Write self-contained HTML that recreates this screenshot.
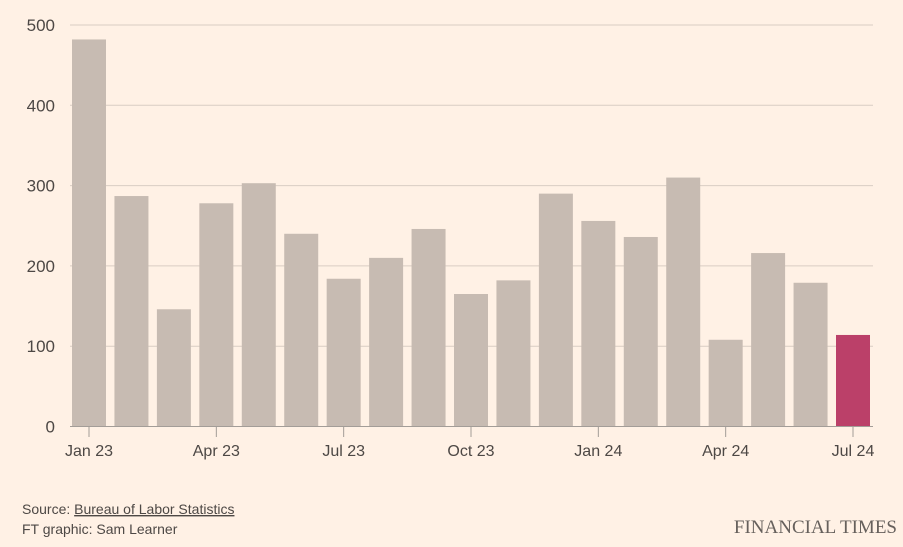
<!DOCTYPE html>
<html><head><meta charset="utf-8"><style>
body{margin:0;background:#fff1e5;}
svg{display:block;font-family:"Liberation Sans",sans-serif;}
</style></head><body>
<svg width="903" height="547" viewBox="0 0 903 547">
<g id="grid"></g><g id="bars"></g><g id="xaxis"></g>
<text x="22" y="514" font-size="14" fill="#4d4845">Source: <tspan text-decoration="underline">Bureau of Labor Statistics</tspan></text>
<text x="22" y="534" font-size="14" fill="#4d4845">FT graphic: Sam Learner</text>
<text x="897" y="533" font-size="19" text-anchor="end" fill="#66605c" font-family="Liberation Serif,serif">FINANCIAL TIMES</text>
</svg>
<script>
const months=["Jan 23","Feb 23","Mar 23","Apr 23","May 23","Jun 23","Jul 23","Aug 23","Sep 23","Oct 23","Nov 23","Dec 23","Jan 24","Feb 24","Mar 24","Apr 24","May 24","Jun 24","Jul 24"];
const values=[482,287,146,278,303,240,184,210,246,165,182,290,256,236,310,108,216,179,114];
const yTicks=[0,100,200,300,400,500];
const xTickLabels={0:"Jan 23",3:"Apr 23",6:"Jul 23",9:"Oct 23",12:"Jan 24",15:"Apr 24",18:"Jul 24"};
const NS="http://www.w3.org/2000/svg";
const y0=426.5,pxPer=(426.5-25)/500;
const y=v=>y0-v*pxPer;
const step=(853-89)/18,bw=34;
const x=i=>89+i*step;
function mk(t,a,p){const e=document.createElementNS(NS,t);for(const k in a)e.setAttribute(k,a[k]);p.appendChild(e);return e;}
const grid=document.getElementById('grid'),bars=document.getElementById('bars'),xa=document.getElementById('xaxis');
yTicks.forEach(v=>{
 const l=mk('line',{x1:70,x2:873,y1:y(v),y2:y(v),stroke:v===0?'#a39d98':'#d9cdc3','stroke-width':1},grid);
 
 
 const t=mk('text',{x:55,y:y(v)+6,'text-anchor':'end','font-size':17,fill:'#4d4845'},grid);
 t.textContent=v;
 
 
});
values.forEach((v,i)=>{
 const r=mk('rect',{x:x(i)-bw/2,y:y(v),width:bw,height:y0-y(v)-0.5,fill:i===values.length-1?'#bb4069':'#c7bbb2'},bars);
 
 
});
for(const k in xTickLabels){
 const i=+k;
 const l=mk('line',{x1:x(i),x2:x(i),y1:427,y2:437,stroke:'#a39d98'},xa);
 
 
 const t=mk('text',{x:x(i),y:456,'text-anchor':'middle','font-size':16,fill:'#4d4845'},xa);
 t.textContent=xTickLabels[k];
 
 
}
</script>
</body></html>
